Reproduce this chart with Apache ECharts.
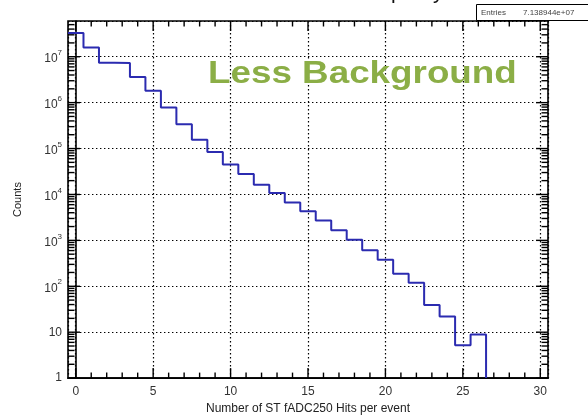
<!DOCTYPE html>
<html>
<head>
<meta charset="utf-8">
<script src="https://cdn.jsdelivr.net/npm/echarts@6/dist/echarts.min.js"></script>
<style>
html,body{margin:0;padding:0;background:#fff;}
#c{width:588px;height:420px;}
</style>
</head>
<body>
<div id="c"></div>
<script>
// ---- data ----
const binCenters = [0,1,2,3,4,5,6,7,8,9,10,11,12,13,14,15,16,17,18,19,20,21,22,23,24,25,26];
const binWidth = 1;
const counts = [3.3e7,1.59e7,7.4e6,7.3e6,3.6e6,1.81e6,7.8e5,3.4e5,1.56e5,8.4e4,4.5e4,2.8e4,1.62e4,1.08e4,6.7e3,4.3e3,2.7e3,1.67e3,1.03e3,610,380,188,120,39,22,5.2,8.9];
const xMajorTicks = [0,5,10,15,20,25,30];
const xMinorTicks = [0,1,2,3,4,5,6,7,8,9,10,11,12,13,14,15,16,17,18,19,20,21,22,23,24,25,26,27,28,29,30];
const yDecades = [1,10,100,1e3,1e4,1e5,1e6,1e7];
const yMinorMultipliers = [2,3,4,5,6,7,8,9];
const xRange = [-0.5, 30.5];
const yRange = [1, 6e7];
const titleText = 'Multiplicity';
const xTitle = 'Number of ST fADC250 Hits per event';
const yTitle = 'Counts';
const annotation = 'Less Background';
const statsLabel = 'Entries';
const statsValue = '7.138944e+07';

const FONT = '"Liberation Sans", Arial, Helvetica, sans-serif';

// step points built from bin centers and counts
const stepPts = [];
binCenters.forEach((c, i) => {
  stepPts.push([c - binWidth/2, counts[i]]);
  stepPts.push([c + binWidth/2, counts[i]]);
});
stepPts.push([binCenters[binCenters.length-1] + binWidth/2, yRange[0]]);

// minor tick values on y
const yMinor = [];
yDecades.forEach(d => yMinorMultipliers.forEach(m => { if (d*m < yRange[1]) yMinor.push(d*m); }));

const chart = echarts.init(document.getElementById('c'), null, {renderer:'canvas'});

function tickItem(params, api) {
  const bl = api.coord([xRange[0], yRange[0]]);
  const tr = api.coord([xRange[1], yRange[1]]);
  const children = [];
  const st = {stroke:'#000', lineWidth:1.4};
  const line = (x1,y1,x2,y2) => children.push({type:'line', shape:{x1,y1,x2,y2}, style:st, silent:true});
  xMinorTicks.forEach(v => {
    const p = api.coord([v, yRange[0]]);
    const len = xMajorTicks.indexOf(v) >= 0 ? 10 : 5.5;
    line(p[0], bl[1], p[0], bl[1]-len);
    line(p[0], tr[1], p[0], tr[1]+len);
  });
  yDecades.forEach(v => {
    const p = api.coord([xRange[0], v]);
    line(bl[0], p[1], bl[0]+12, p[1]);
    line(tr[0], p[1], tr[0]-12, p[1]);
  });
  yMinor.forEach(v => {
    const p = api.coord([xRange[0], v]);
    line(bl[0], p[1], bl[0]+6.5, p[1]);
    line(tr[0], p[1], tr[0]-6.5, p[1]);
  });
  return {type:'group', children};
}

const option = {
  animation: false,
  backgroundColor: '#fff',
  grid: {left:68, right:40, top:21, bottom:33, show:true, borderColor:'#000', borderWidth:1.6, backgroundColor:'transparent'},
  xAxis: {
    type:'value', min:xRange[0], max:xRange[1], splitNumber:6,
    axisLine:{show:true, lineStyle:{color:'#000', width:1.6}},
    axisTick:{show:false},
    axisLabel:{showMinLabel:false, showMaxLabel:false, color:'#333', fontSize:12, fontFamily:FONT, margin:8},
    splitLine:{show:true, lineStyle:{color:'#000', width:1.2, type:[1.4,2.6]}},
    name:xTitle, nameLocation:'middle', nameGap:19,
    nameTextStyle:{color:'#222', fontSize:12, fontFamily:FONT}
  },
  yAxis: {
    type:'log', logBase:10, min:yRange[0], max:yRange[1], splitNumber:8,
    axisLine:{show:true, lineStyle:{color:'#000', width:1.6}},
    axisTick:{show:false},
    axisLabel:{
      showMaxLabel:false, color:'#333', fontSize:12, fontFamily:FONT, margin:6,
      formatter: v => {
        const n = Math.round(Math.log10(v));
        if (n === 0) return '1';
        if (n === 1) return '10';
        return '{b|10}{s|' + n + '}';
      },
      rich:{
        b:{fontSize:12, color:'#333', fontFamily:FONT, padding:[4,0,0,0]},
        s:{fontSize:8, color:'#333', fontFamily:FONT, verticalAlign:'top'}
      }
    },
    splitLine:{show:true, lineStyle:{color:'#000', width:1.2, type:[1.4,2.6]}},
    name:yTitle, nameLocation:'middle', nameGap:45, nameRotate:90,
    nameTextStyle:{color:'#222', fontSize:11, fontFamily:FONT}
  },
  series: [
    {
      type:'line', data:stepPts, showSymbol:false, symbol:'none',
      lineStyle:{color:'#2b2bb0', width:2}, z:5
    },
    {
      type:'custom', renderItem:tickItem, data:[[0,1]], clip:false, silent:true, z:6
    }
  ],
  graphic: [
    {type:'text', x:395, y:-7, style:{text:titleText, fontSize:21, fontFamily:FONT, fill:'#111', align:'center', verticalAlign:'middle'}, z:1},
    {type:'text', x:208, y:74, scaleX:1.15, style:{text:annotation, fontSize:32, fontWeight:'bold', fontFamily:FONT, fill:'#8BAE46', align:'left', verticalAlign:'middle'}, z:10},
    {type:'rect', shape:{x:476.5, y:4.5, width:130, height:16}, style:{fill:'#fff', stroke:'#000', lineWidth:1}, z:20},
    {type:'text', x:481, y:13, style:{text:statsLabel, fontSize:8, fontFamily:FONT, fill:'#444', verticalAlign:'middle'}, z:21},
    {type:'text', x:523, y:13, style:{text:statsValue, fontSize:8, fontFamily:FONT, fill:'#444', verticalAlign:'middle'}, z:21}
  ]
};
chart.setOption(option);
</script>
</body>
</html>
